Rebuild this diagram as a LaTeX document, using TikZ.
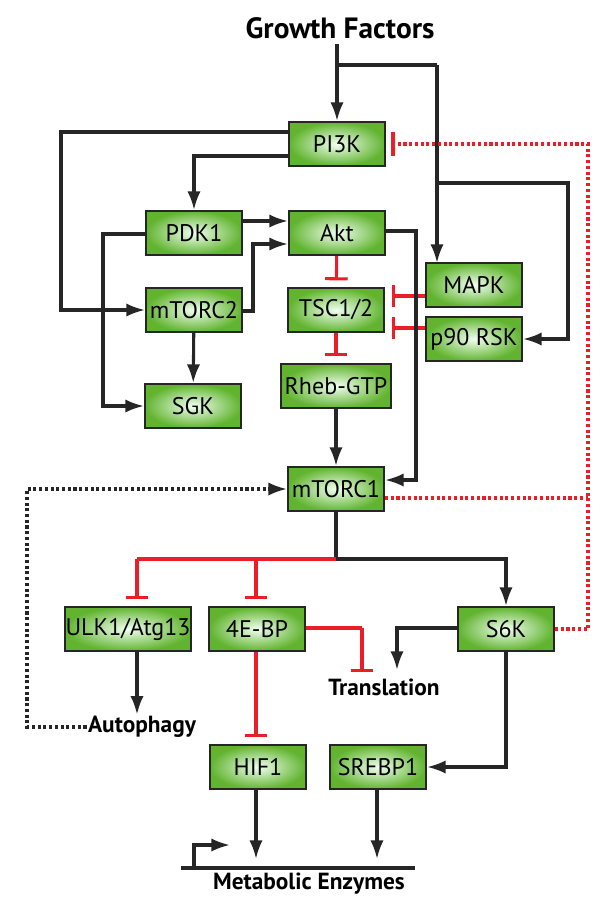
\documentclass[tikz,border=0pt]{standalone}
\usepackage{fontspec}
\setmainfont{PT Sans}
\usetikzlibrary{arrows.meta,shadings}
\definecolor{gbox}{RGB}{98,180,48}
\definecolor{ired}{RGB}{235,30,40}
\begin{document}
\begin{tikzpicture}[x=0.75pt,y=-0.75pt,
 box/.style={draw=black!85,line width=1.5pt,inner color=green!6!white,outer color=gbox,minimum width=72pt,minimum height=33pt,inner sep=0pt,font=\fontsize{18}{20}\selectfont},
 lbl/.style={font=\bfseries\fontsize{17.5}{19}\selectfont,inner sep=1pt},
 act/.style={line width=2.3pt,draw=black!85,-{Latex[length=14pt,width=10pt]}},
 ln/.style={line width=2.3pt,draw=black!85},
 inh/.style={line width=2.3pt,draw=ired,-{Bar[width=17pt,line width=2.3pt]},shorten >=5pt},
 rln/.style={line width=2.3pt,draw=ired},
 rdot/.style={line width=2.3pt,draw=ired,dotted},
 kdot/.style={line width=2.3pt,draw=black!85,dotted}]
\useasboundingbox (0,0) rectangle (600,900);
\node[font=\bfseries\fontsize{22}{24}\selectfont] (gf) at (340,28) {Growth Factors};
\node[box] (pi3k) at (337,144) {PI3K};
\node[box] (pdk1) at (194,233) {PDK1};
\node[box] (akt) at (337,233) {Akt};
\node[box] (mtorc2) at (194,310) {mTORC2};
\node[box] (tsc) at (336,310) {TSC1/2};
\node[box] (mapk) at (474,285) {MAPK};
\node[box] (rsk) at (474,339) {p90 RSK};
\node[box] (sgk) at (193,406) {SGK};
\node[box,minimum width=82pt] (rheb) at (336,386) {Rheb-GTP};
\node[box] (mtorc1) at (336,489) {mTORC1};
\node[box,minimum width=95pt] (ulk) at (128,629) {ULK1/Atg13};
\node[box] (ebp) at (257,629) {4E-BP};
\node[box] (s6k) at (506,629) {S6K};
\node[box] (hif) at (258,767) {HIF1};
\node[box] (srebp) at (378,767) {SREBP1};
\node[lbl] (trans) at (384,687) {Translation};
\node[lbl] (auto) at (142,727) {Autophagy};
\node[lbl] (me) at (309,884) {Metabolic Enzymes};
\coordinate (gfb) at (337,44);
\coordinate (mel) at (181,868);
\coordinate (mer) at (415,868);
% growth factors
\draw[act] (gfb) -- (pi3k.north);
\draw[ln] (337,65) -- (437,65);
\draw[act] (437,65) -- (437,263);
\draw[act] (437,183) -- (568,183) |- (rsk.east);
% PI3K
\draw[act] (pi3k.west |- 0,132) -- (61,132) |- (mtorc2.west);
\draw[act] (pi3k.west |- 0,156) -| (pdk1.north);
\draw[act] (pdk1.east |- 0,221) -- (akt.west |- 0,221);
\draw[act] (mtorc2.east |- 0,311) -- (253,311) |- (akt.west |- 0,244);
\draw[act] (pdk1.west |- 0,234) -- (103,234) |- (sgk.west);
\draw[act] (mtorc2) -- (sgk);
\draw[inh] (akt) -- (tsc);
\draw[inh] (tsc) -- (rheb);
\draw[inh] (mapk.west |- 0,296) -- (tsc.east |- 0,296);
\draw[inh] (rsk.west |- 0,328) -- (tsc.east |- 0,328);
\draw[act] (akt.east |- 0,231) -- (416,231) |- (mtorc1.east |- 0,480);
\draw[act] (rheb) -- (mtorc1);
% red dotted feedback
\draw[rdot] (mtorc1.east |- 0,498) -- (588,498);
\draw[rdot] (s6k.east) -- (588,629) -- (588,144) -- (396,144);
\draw[ired,line width=2.3pt] (393,132) -- (393,156);
% autophagy feedback
\draw[kdot,-{Latex[length=14pt,width=10pt]}] (auto.west) -- (27,727) |- (mtorc1.west);
% mTORC1 outputs
\draw[ln] (mtorc1) -- (336,559);
\draw[rln] (336,559) -- (137,559);
\draw[inh] (137,559) -- (ulk.north -| 137,0);
\draw[inh] (256,559) -- (ebp.north -| 256,0);
\draw[act] (336,559) -| (s6k.north);
\draw[act] (ulk.south -| 137,0) -- (auto.north -| 137,0);
\draw[rln] (ebp.east |- 0,628) -- (362,628);
\draw[inh,shorten >=0pt] (362,628) -- (362,672);
\draw[act] (s6k.west |- 0,628) -- (397,628) -- (397,670);
\draw[inh] (ebp.south -| 256,0) -- (hif.north -| 256,0);
\draw[act] (s6k.south) |- (srebp.east);
\draw[act] (hif.south -| 256,0) -- (256,859);
\draw[act] (srebp.south -| 377,0) -- (377,859);
\draw[ln] (mel) -- (mer);
\draw[act] (194,868) -- (194,845) -- (230,845);
\end{tikzpicture}
\end{document}
